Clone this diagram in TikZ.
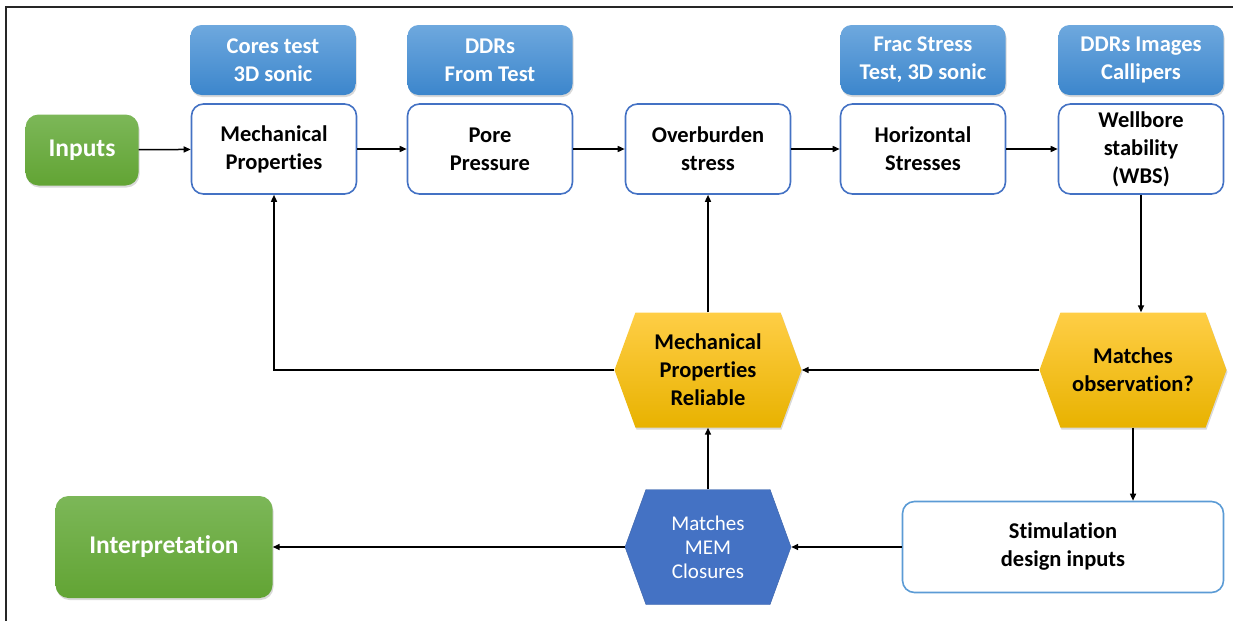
\documentclass[tikz,border=0pt]{standalone}
\usepackage{fontspec}
\setmainfont{Carlito}[Ligatures=NoCommon]
\usetikzlibrary{shapes.symbols, arrows.meta, shadows, positioning}
\definecolor{edgeblue}{RGB}{68, 114, 196}
\definecolor{lightedge}{RGB}{91, 155, 213}
\definecolor{srctop}{RGB}{110, 168, 222}
\definecolor{srcbot}{RGB}{60, 134, 204}
\definecolor{greentop}{RGB}{124, 183, 88}
\definecolor{greenbot}{RGB}{98, 164, 52}
\definecolor{goldtop}{RGB}{255, 206, 70}
\definecolor{goldbot}{RGB}{232, 178, 0}
\definecolor{memblue}{RGB}{68, 114, 196}

\begin{document}
\begin{tikzpicture}[x=1pt, y=-1pt,
  stage/.style={draw=edgeblue, line width=1.6pt, fill=white, rounded corners=12pt,
    minimum width=165pt, minimum height=90pt, align=center,
    font=\fontsize{22.5}{28}\selectfont\bfseries},
  source/.style={rounded corners=11pt, top color=srctop, bottom color=srcbot,
    minimum width=165pt, minimum height=70pt, align=center, text=white,
    font=\fontsize{22.5}{28}\selectfont\bfseries,
    drop shadow={opacity=0.3, shadow xshift=1pt, shadow yshift=-2pt}},
  endpoint/.style={rounded corners=13pt, top color=greentop, bottom color=greenbot,
    align=center, text=white, font=\fontsize{25.5}{30}\selectfont\bfseries,
    drop shadow={opacity=0.3, shadow xshift=1pt, shadow yshift=-2pt}},
  check/.style={signal, signal to=east and west, signal pointer angle=140,
    top color=goldtop, bottom color=goldbot, minimum width=187pt, minimum height=115pt,
    align=center, inner sep=0pt, font=\fontsize{22.5}{28}\selectfont\bfseries,
    drop shadow={opacity=0.3, shadow xshift=1pt, shadow yshift=-2pt}},
  flow/.style={-{Triangle[length=7pt, width=6pt]}, line width=1.5pt}
]
\useasboundingbox (0,0) rectangle (1233,621);
\draw[line width=1.6pt, black!85] (1233,7) -- (6,7) -- (6,621);

% main chain
\node[endpoint, minimum width=113pt, minimum height=71pt] (inputs) at (82,150) {Inputs};
\node[stage] (mech) at (274,149) {Mechanical\\Properties};
\node[stage] (pore) at (490,149) {Pore\\Pressure};
\node[stage] (over) at (708,149) {Overburden\\stress};
\node[stage] (horiz) at (923,149) {Horizontal\\Stresses};
\node[stage] (wbs) at (1141,149) {Wellbore\\stability\\(WBS)};

% data sources
\node[source] (cores) at (273,60) {Cores test\\3D sonic};
\node[source] (ddrtest) at (490,60) {DDRs\\From Test};
\node[source] (frac) at (923,60) {Frac Stress\\Test, 3D sonic};
\node[source] (ddrimg) at (1141,60) {DDRs Images\\Callipers};

% checks
\node[check] (reliable) at (708,370) {Mechanical\\Properties\\Reliable};
\node[check] (match) at (1133,370) {Matches\\observation?};
\node[signal, signal to=east and west, signal pointer angle=140, fill=memblue,
  draw=memblue!85!black, minimum width=166pt, minimum height=115pt, inner sep=0pt,
  align=center, text=white, font=\fontsize{21}{24}\selectfont] (mem) at (708,547)
  {Matches\\MEM\\Closures};
\node[stage, draw=lightedge, minimum width=321pt, minimum height=91pt] (stim) at (1063,547)
  {Stimulation\\design inputs};
\node[endpoint, minimum width=217pt, minimum height=102pt] (interp) at (164,547) {Interpretation};

% connectors
\draw[flow] (inputs) -- (mech);
\draw[flow] (mech) -- (pore);
\draw[flow] (pore) -- (over);
\draw[flow] (over) -- (horiz);
\draw[flow] (horiz) -- (wbs);
\draw[flow] (wbs.south) -- (wbs.south |- match.north);
\draw[flow] (match.west) -- (reliable.east);
\draw[flow] (reliable.west) -| (mech.south);
\draw[flow] (reliable.north) -- (over.south);
\draw[flow] (match.south) -- (match.south |- stim.north);
\draw[flow] (stim.west) -- (mem.east);
\draw[flow] (mem.north) -- (reliable.south);
\draw[flow] (mem.west) -- (interp.east);
\end{tikzpicture}
\end{document}
